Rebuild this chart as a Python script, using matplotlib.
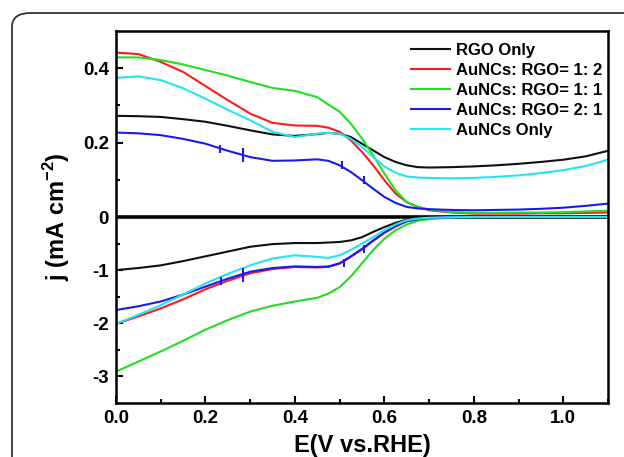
import numpy as np
import matplotlib
matplotlib.use("Agg")
import matplotlib.pyplot as plt
from matplotlib.patches import FancyBboxPatch

plt.rcParams['font.family'] = ['Liberation Sans', 'DejaVu Sans']
plt.rcParams['font.weight'] = 'bold'
plt.rcParams['mathtext.fontset'] = 'custom'
plt.rcParams['mathtext.rm'] = 'Liberation Sans:bold'
plt.rcParams['mathtext.bf'] = 'Liberation Sans:bold'

# Potential grid (V vs RHE)
E = [0.0, 0.05, 0.1, 0.15, 0.2, 0.25, 0.3, 0.35, 0.4, 0.45, 0.475, 0.5, 0.525,
     0.55, 0.575, 0.6, 0.625, 0.65, 0.675, 0.7, 0.75, 0.8, 0.85, 0.9, 0.95,
     1.0, 1.05, 1.1]

labels = ["RGO Only", "AuNCs: RGO= 1: 2", "AuNCs: RGO= 1: 1",
          "AuNCs: RGO= 2: 1", "AuNCs Only"]
colors = ["#111111", "#ff1a1a", "#22dd22", "#1a1aee", "#22e6ee"]

# Anodic (positive) branch, mA cm^-2
pos_rgo = [0.272, 0.271, 0.269, 0.263, 0.256, 0.245, 0.233, 0.222, 0.218, 0.223,
           0.226, 0.224, 0.215, 0.197, 0.179, 0.161, 0.148, 0.139, 0.134, 0.133,
           0.134, 0.136, 0.139, 0.143, 0.148, 0.154, 0.163, 0.178]
pos_12 = [0.442, 0.438, 0.417, 0.390, 0.352, 0.314, 0.278, 0.253, 0.246, 0.245,
          0.240, 0.229, 0.206, 0.175, 0.139, 0.099, 0.063, 0.040, 0.027, 0.018,
          0.012, 0.009, 0.009, 0.009, 0.010, 0.010, 0.011, 0.012]
pos_11 = [0.429, 0.429, 0.422, 0.410, 0.395, 0.380, 0.363, 0.347, 0.339, 0.322,
          0.302, 0.283, 0.251, 0.211, 0.166, 0.117, 0.072, 0.040, 0.027, 0.020,
          0.013, 0.011, 0.011, 0.012, 0.012, 0.013, 0.015, 0.017]
pos_21 = [0.227, 0.225, 0.220, 0.210, 0.197, 0.178, 0.161, 0.151, 0.152, 0.155,
          0.151, 0.139, 0.121, 0.099, 0.076, 0.054, 0.038, 0.027, 0.023, 0.021,
          0.019, 0.018, 0.019, 0.020, 0.022, 0.025, 0.030, 0.036]
pos_au = [0.374, 0.378, 0.368, 0.346, 0.318, 0.288, 0.260, 0.229, 0.215, 0.224,
          0.226, 0.224, 0.210, 0.188, 0.161, 0.136, 0.119, 0.109, 0.106, 0.105,
          0.104, 0.105, 0.108, 0.112, 0.118, 0.126, 0.137, 0.154]

# Cathodic (negative) branch, mA cm^-2
neg_rgo = [-1.00, -0.96, -0.91, -0.83, -0.74, -0.65, -0.56, -0.51, -0.49, -0.49,
           -0.48, -0.47, -0.44, -0.38, -0.28, -0.19, -0.11, -0.05, -0.01, 0.0,
           0.0, 0.0, 0.0, 0.0, 0.0, 0.0, 0.0, 0.0]
neg_12 = [-2.01, -1.87, -1.72, -1.55, -1.36, -1.20, -1.06, -0.98, -0.94, -0.95,
          -0.94, -0.88, -0.75, -0.61, -0.45, -0.30, -0.18, -0.08, -0.04, -0.02,
          -0.005, 0.0, 0.0, 0.0, 0.0, 0.0, 0.0, 0.0]
neg_11 = [-2.91, -2.72, -2.53, -2.33, -2.12, -1.94, -1.78, -1.67, -1.59, -1.52,
          -1.44, -1.32, -1.12, -0.87, -0.62, -0.41, -0.25, -0.14, -0.07, -0.04,
          -0.01, -0.003, 0.0, 0.0, 0.0, 0.0, 0.0, 0.0]
neg_21 = [-1.75, -1.68, -1.59, -1.46, -1.31, -1.16, -1.03, -0.96, -0.93, -0.94,
          -0.93, -0.87, -0.74, -0.60, -0.44, -0.29, -0.17, -0.08, -0.04, -0.02,
          -0.005, 0.0, 0.0, 0.0, 0.0, 0.0, 0.0, 0.0]
neg_au = [-2.01, -1.84, -1.66, -1.46, -1.25, -1.07, -0.91, -0.78, -0.72, -0.75,
          -0.77, -0.72, -0.62, -0.50, -0.38, -0.25, -0.14, -0.06, -0.03, -0.015,
          -0.005, 0.0, 0.0, 0.0, 0.0, 0.0, 0.0, 0.0]

pos_series = [pos_rgo, pos_12, pos_11, pos_21, pos_au]
neg_series = [neg_rgo, neg_12, neg_11, neg_21, neg_au]

# Small spike artefacts on the AuNCs: RGO = 2: 1 trace
spike_E = [0.232, 0.285, 0.505, 0.555, 0.235, 0.285, 0.51, 0.555]
spike_j = [0.182, 0.168, 0.141, 0.099, -1.20, -1.10, -0.86, -0.60]
spike_big = [False, True, False, False, False, True, False, False]

yticks = [-3, -2, -1, 0, 0.2, 0.4]
ytick_labels = ["-3", "-2", "-1", "0", "0.2", "0.4"]
yminor = [-2.5, -1.5, -0.5, 0.1, 0.3]
xticks = [0.0, 0.2, 0.4, 0.6, 0.8, 1.0]
xtick_labels = ["0.0", "0.2", "0.4", "0.6", "0.8", "1.0"]

K = 7.0
def fwd(y):
    y = np.asarray(y, dtype=float)
    return np.where(y > 0, y * K, y)
def inv(u):
    u = np.asarray(u, dtype=float)
    return np.where(u > 0, u / K, u)

fig = plt.figure(figsize=(6.24, 4.57), dpi=100)
ax = fig.add_axes([116/624, 1 - 403/457, (608-116)/624, (403-31)/457])
ax.set_yscale('function', functions=(fwd, inv))

for p, n, c, l in zip(pos_series, neg_series, colors, labels):
    ax.plot(E, p, color=c, lw=1.5, label=l)
    ax.plot(E, n, color=c, lw=1.5)

for e, j, big in zip(spike_E, spike_j, spike_big):
    ax.plot([e], [j], marker='|', color=colors[3], ms=10 if big else 6, mew=1.5)

ax.axhline(0, color='black', lw=2.6, zorder=1.5)

ax.set_xlim(0, 1.1)
ax.set_ylim(-3.5, 0.5)
ax.set_xticks(xticks)
ax.set_xticklabels(xtick_labels)
ax.set_xticks([0.1, 0.3, 0.5, 0.7, 0.9, 1.1], minor=True)
ax.set_yticks(yticks)
ax.set_yticklabels(ytick_labels)
ax.set_yticks(yminor, minor=True)
ax.tick_params(which='both', direction='in', labelsize=13.5, width=1.5)
ax.tick_params(which='major', length=5, pad=5)
ax.tick_params(which='minor', length=3)
for lab in ax.get_xticklabels() + ax.get_yticklabels():
    lab.set_fontweight('bold')
for s in ax.spines.values():
    s.set_linewidth(1.8)

ax.set_xlabel("E(V vs.RHE)", fontsize=17, fontweight='bold', labelpad=5)
ax.set_ylabel(r"j (mA cm$^{\mathbf{-2}}$)", fontsize=17, fontweight='bold', labelpad=8)

leg = ax.legend(loc='upper right', bbox_to_anchor=(0.988, 0.968), frameon=False,
                fontsize=12, handlelength=2.35, handletextpad=0.36,
                labelspacing=0.3, borderaxespad=0.0, borderpad=0.0)
for t in leg.get_texts():
    t.set_fontweight('bold')

frame = FancyBboxPatch((12/624, -0.1), 1.1, 1.1 - 13/457,
                       boxstyle="round,pad=0,rounding_size=0.03",
                       transform=fig.transFigure, fill=False,
                       edgecolor='#333333', lw=1.3, clip_on=False)
fig.patches.append(frame)

fig.savefig("out.png", dpi=100)
